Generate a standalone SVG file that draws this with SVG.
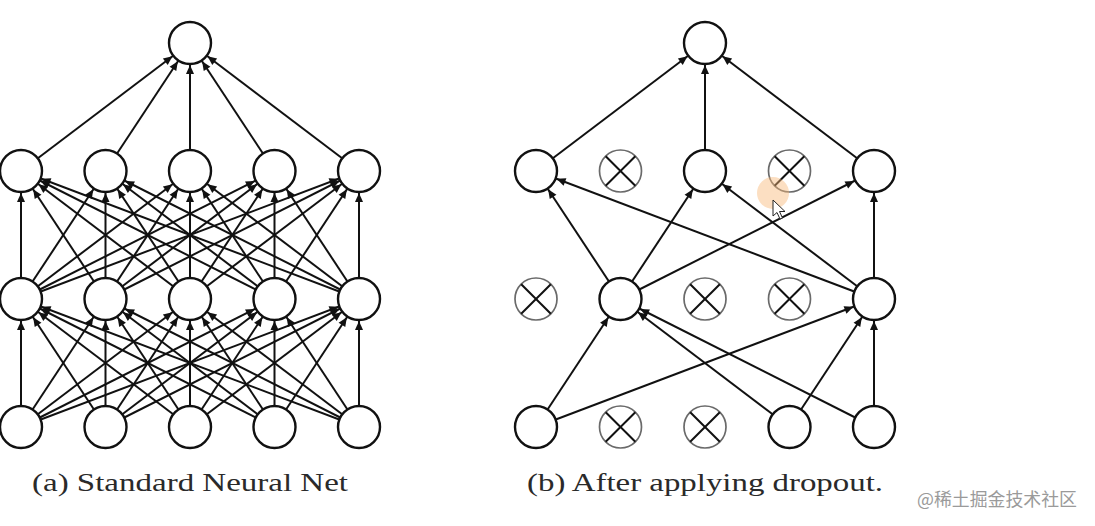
<svg xmlns="http://www.w3.org/2000/svg" width="1095" height="526" viewBox="0 0 1095 526">
<style>
  .edge { stroke:#111; stroke-width:2; fill:none; marker-end:url(#arr); }
  .node { fill:#fff; stroke:#111; stroke-width:2.4; }
  .drop { fill:#fff; stroke:#6a6a6a; stroke-width:1.7; }
  .x { stroke:#111; stroke-width:2; }
  .cap { font-family:"Liberation Serif","DejaVu Serif",serif; font-size:26px; fill:#2a2a2a; }
  .wm { font-family:"Noto Sans CJK SC","Noto Sans",sans-serif; font-size:18px; fill:#9a9a9a; }
</style>
<defs>
  <marker id="arr" markerUnits="userSpaceOnUse" viewBox="-34 -6 34 12" refX="0" refY="0" markerWidth="34" markerHeight="12" orient="auto">
    <path d="M-22,0 L-31,-4 L-31,4 Z" fill="#111"/>
  </marker>
  <g id="xmark">
    <line class="x" x1="-14.8" y1="-14.8" x2="14.8" y2="14.8"/>
    <line class="x" x1="-14.8" y1="14.8" x2="14.8" y2="-14.8"/>
  </g>
</defs>
<rect width="1095" height="526" fill="#fff"/>

<g id="connectors">
  <!-- (a) L1 -> top -->
  <line class="edge" x1="21" y1="171" x2="190" y2="43"/>
  <line class="edge" x1="105.5" y1="171" x2="190" y2="43"/>
  <line class="edge" x1="190" y1="171" x2="190" y2="43"/>
  <line class="edge" x1="274.5" y1="171" x2="190" y2="43"/>
  <line class="edge" x1="359" y1="171" x2="190" y2="43"/>
  <!-- (a) L2 -> L1 -->
  <line class="edge" x1="21" y1="299" x2="21" y2="171"/>
  <line class="edge" x1="21" y1="299" x2="105.5" y2="171"/>
  <line class="edge" x1="21" y1="299" x2="190" y2="171"/>
  <line class="edge" x1="21" y1="299" x2="274.5" y2="171"/>
  <line class="edge" x1="21" y1="299" x2="359" y2="171"/>
  <line class="edge" x1="105.5" y1="299" x2="21" y2="171"/>
  <line class="edge" x1="105.5" y1="299" x2="105.5" y2="171"/>
  <line class="edge" x1="105.5" y1="299" x2="190" y2="171"/>
  <line class="edge" x1="105.5" y1="299" x2="274.5" y2="171"/>
  <line class="edge" x1="105.5" y1="299" x2="359" y2="171"/>
  <line class="edge" x1="190" y1="299" x2="21" y2="171"/>
  <line class="edge" x1="190" y1="299" x2="105.5" y2="171"/>
  <line class="edge" x1="190" y1="299" x2="190" y2="171"/>
  <line class="edge" x1="190" y1="299" x2="274.5" y2="171"/>
  <line class="edge" x1="190" y1="299" x2="359" y2="171"/>
  <line class="edge" x1="274.5" y1="299" x2="21" y2="171"/>
  <line class="edge" x1="274.5" y1="299" x2="105.5" y2="171"/>
  <line class="edge" x1="274.5" y1="299" x2="190" y2="171"/>
  <line class="edge" x1="274.5" y1="299" x2="274.5" y2="171"/>
  <line class="edge" x1="274.5" y1="299" x2="359" y2="171"/>
  <line class="edge" x1="359" y1="299" x2="21" y2="171"/>
  <line class="edge" x1="359" y1="299" x2="105.5" y2="171"/>
  <line class="edge" x1="359" y1="299" x2="190" y2="171"/>
  <line class="edge" x1="359" y1="299" x2="274.5" y2="171"/>
  <line class="edge" x1="359" y1="299" x2="359" y2="171"/>
  <!-- (a) L3 -> L2 -->
  <line class="edge" x1="21" y1="427" x2="21" y2="299"/>
  <line class="edge" x1="21" y1="427" x2="105.5" y2="299"/>
  <line class="edge" x1="21" y1="427" x2="190" y2="299"/>
  <line class="edge" x1="21" y1="427" x2="274.5" y2="299"/>
  <line class="edge" x1="21" y1="427" x2="359" y2="299"/>
  <line class="edge" x1="105.5" y1="427" x2="21" y2="299"/>
  <line class="edge" x1="105.5" y1="427" x2="105.5" y2="299"/>
  <line class="edge" x1="105.5" y1="427" x2="190" y2="299"/>
  <line class="edge" x1="105.5" y1="427" x2="274.5" y2="299"/>
  <line class="edge" x1="105.5" y1="427" x2="359" y2="299"/>
  <line class="edge" x1="190" y1="427" x2="21" y2="299"/>
  <line class="edge" x1="190" y1="427" x2="105.5" y2="299"/>
  <line class="edge" x1="190" y1="427" x2="190" y2="299"/>
  <line class="edge" x1="190" y1="427" x2="274.5" y2="299"/>
  <line class="edge" x1="190" y1="427" x2="359" y2="299"/>
  <line class="edge" x1="274.5" y1="427" x2="21" y2="299"/>
  <line class="edge" x1="274.5" y1="427" x2="105.5" y2="299"/>
  <line class="edge" x1="274.5" y1="427" x2="190" y2="299"/>
  <line class="edge" x1="274.5" y1="427" x2="274.5" y2="299"/>
  <line class="edge" x1="274.5" y1="427" x2="359" y2="299"/>
  <line class="edge" x1="359" y1="427" x2="21" y2="299"/>
  <line class="edge" x1="359" y1="427" x2="105.5" y2="299"/>
  <line class="edge" x1="359" y1="427" x2="190" y2="299"/>
  <line class="edge" x1="359" y1="427" x2="274.5" y2="299"/>
  <line class="edge" x1="359" y1="427" x2="359" y2="299"/>

  <!-- (b) R1 -> top -->
  <line class="edge" x1="536" y1="171" x2="705" y2="43"/>
  <line class="edge" x1="705" y1="171" x2="705" y2="43"/>
  <line class="edge" x1="874" y1="171" x2="705" y2="43"/>
  <!-- (b) R2 -> R1 -->
  <line class="edge" x1="620.5" y1="299" x2="536" y2="171"/>
  <line class="edge" x1="874" y1="299" x2="536" y2="171"/>
  <line class="edge" x1="620.5" y1="299" x2="705" y2="171"/>
  <line class="edge" x1="874" y1="299" x2="705" y2="171"/>
  <line class="edge" x1="620.5" y1="299" x2="874" y2="171"/>
  <line class="edge" x1="874" y1="299" x2="874" y2="171"/>
  <!-- (b) R3 -> R2 -->
  <line class="edge" x1="536" y1="427" x2="620.5" y2="299"/>
  <line class="edge" x1="789.5" y1="427" x2="620.5" y2="299"/>
  <line class="edge" x1="874" y1="427" x2="620.5" y2="299"/>
  <line class="edge" x1="536" y1="427" x2="874" y2="299"/>
  <line class="edge" x1="789.5" y1="427" x2="874" y2="299"/>
  <line class="edge" x1="874" y1="427" x2="874" y2="299"/>
</g>

<!-- (a) Standard Neural Net nodes -->
<g id="a-out"><circle class="node" cx="190" cy="43" r="21"/></g>
<g id="a-h1-0"><circle class="node" cx="21" cy="171" r="21"/></g>
<g id="a-h1-1"><circle class="node" cx="105.5" cy="171" r="21"/></g>
<g id="a-h1-2"><circle class="node" cx="190" cy="171" r="21"/></g>
<g id="a-h1-3"><circle class="node" cx="274.5" cy="171" r="21"/></g>
<g id="a-h1-4"><circle class="node" cx="359" cy="171" r="21"/></g>
<g id="a-h2-0"><circle class="node" cx="21" cy="299" r="21"/></g>
<g id="a-h2-1"><circle class="node" cx="105.5" cy="299" r="21"/></g>
<g id="a-h2-2"><circle class="node" cx="190" cy="299" r="21"/></g>
<g id="a-h2-3"><circle class="node" cx="274.5" cy="299" r="21"/></g>
<g id="a-h2-4"><circle class="node" cx="359" cy="299" r="21"/></g>
<g id="a-in-0"><circle class="node" cx="21" cy="427" r="21"/></g>
<g id="a-in-1"><circle class="node" cx="105.5" cy="427" r="21"/></g>
<g id="a-in-2"><circle class="node" cx="190" cy="427" r="21"/></g>
<g id="a-in-3"><circle class="node" cx="274.5" cy="427" r="21"/></g>
<g id="a-in-4"><circle class="node" cx="359" cy="427" r="21"/></g>

<!-- (b) After applying dropout nodes -->
<g id="b-out"><circle class="node" cx="705" cy="43" r="21"/></g>
<g id="b-h1-0"><circle class="node" cx="536" cy="171" r="21"/></g>
<g id="b-h1-1"><circle class="drop" cx="620.5" cy="171" r="21"/><use href="#xmark" x="620.5" y="171"/></g>
<g id="b-h1-2"><circle class="node" cx="705" cy="171" r="21"/></g>
<g id="b-h1-3"><circle class="drop" cx="789.5" cy="171" r="21"/><use href="#xmark" x="789.5" y="171"/></g>
<g id="b-h1-4"><circle class="node" cx="874" cy="171" r="21"/></g>
<g id="b-h2-0"><circle class="drop" cx="536" cy="299" r="21"/><use href="#xmark" x="536" y="299"/></g>
<g id="b-h2-1"><circle class="node" cx="620.5" cy="299" r="21"/></g>
<g id="b-h2-2"><circle class="drop" cx="705" cy="299" r="21"/><use href="#xmark" x="705" y="299"/></g>
<g id="b-h2-3"><circle class="drop" cx="789.5" cy="299" r="21"/><use href="#xmark" x="789.5" y="299"/></g>
<g id="b-h2-4"><circle class="node" cx="874" cy="299" r="21"/></g>
<g id="b-in-0"><circle class="node" cx="536" cy="427" r="21"/></g>
<g id="b-in-1"><circle class="drop" cx="620.5" cy="427" r="21"/><use href="#xmark" x="620.5" y="427"/></g>
<g id="b-in-2"><circle class="drop" cx="705" cy="427" r="21"/><use href="#xmark" x="705" y="427"/></g>
<g id="b-in-3"><circle class="node" cx="789.5" cy="427" r="21"/></g>
<g id="b-in-4"><circle class="node" cx="874" cy="427" r="21"/></g>

<!-- captions -->
<text class="cap" x="32" y="491" textLength="316" lengthAdjust="spacingAndGlyphs">(a) Standard Neural Net</text>
<text class="cap" x="527" y="491" textLength="356" lengthAdjust="spacingAndGlyphs">(b) After applying dropout.</text>

<!-- watermark -->
<text class="wm" x="917" y="506" textLength="160" lengthAdjust="spacingAndGlyphs">@稀土掘金技术社区</text>

<!-- screen-recording pointer highlight -->
<circle cx="773" cy="193" r="16" fill="#f8b878" opacity="0.45"/>
<path d="M773,200 L773,216 L777,212.5 L780,219 L782.5,218 L779.5,211.5 L785,211.5 Z" fill="#fff" stroke="#222" stroke-width="1"/>
</svg>
